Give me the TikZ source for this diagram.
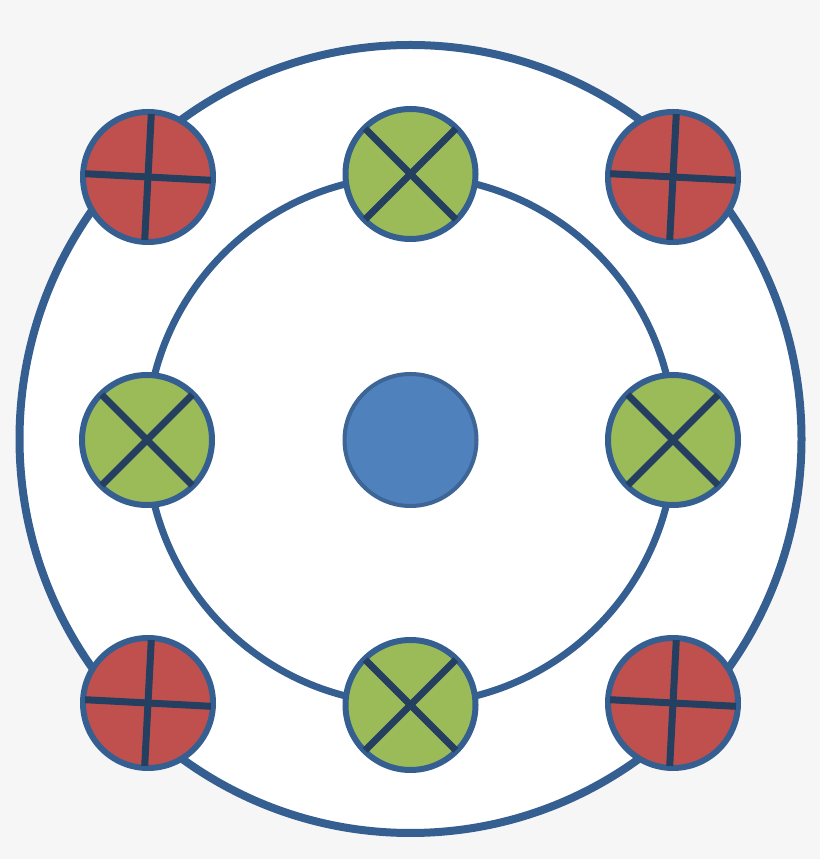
\documentclass[tikz,border=0pt]{standalone}
\usetikzlibrary{calc}
\definecolor{bgc}{HTML}{F6F6F6}
\definecolor{ringc}{HTML}{365F91}
\definecolor{crossc}{HTML}{243F60}
\definecolor{redc}{HTML}{C0504D}
\definecolor{greenc}{HTML}{9BBB59}
\definecolor{bluec}{HTML}{4F81BD}
\definecolor{blueb}{HTML}{3D6596}
\tikzset{
  ring/.style={draw=ringc, line width=8pt},
  redball/.style={circle, draw=ringc, line width=6pt, fill=redc, minimum size=130pt, inner sep=0pt},
  greenball/.style={circle, draw=ringc, line width=6pt, fill=greenc, minimum size=130pt, inner sep=0pt},
  centerball/.style={circle, draw=blueb, line width=4pt, fill=bluec, minimum size=132pt, inner sep=0pt},
  crossline/.style={draw=crossc, line width=7pt}
}
\begin{document}
\begin{tikzpicture}[x=1pt,y=1pt]
\fill[bgc] (0,0) rectangle (820,859);
\useasboundingbox (0,0) rectangle (820,859);
\coordinate (c) at (410.5,419);
\draw[ring, fill=white] (410.5,420) ellipse [x radius=391pt, y radius=394pt];
\draw[ring, line width=7pt] (c) circle [radius=264pt];
% green balls
\foreach \n/\px/\py in {g1/410.5/685, g2/147/419, g3/673/419, g4/410.5/154}{
  \node[greenball] (\n) at (\px,\py) {};
  \draw[crossline] (\n.center) ++(45:64pt) -- ++(225:128pt);
  \draw[crossline] (\n.center) ++(135:64pt) -- ++(315:128pt);
}
% red balls
\foreach \n/\px/\py in {r1/148/682, r2/673/682, r3/148/156, r4/673/156}{
  \node[redball] (\n) at (\px,\py) {};
  \draw[crossline] (\n.center) ++(-3:63pt) -- ++(177:126pt);
  \draw[crossline] (\n.center) ++(87:63pt) -- ++(267:126pt);
}
\node[centerball] (ctr) at (c) {};
\end{tikzpicture}
\end{document}
